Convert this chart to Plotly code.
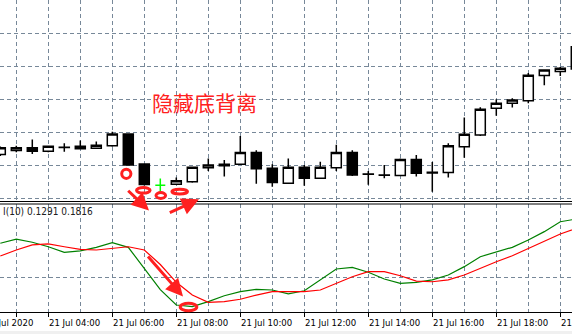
import plotly.graph_objects as go

W, H = 572, 334

# ---------------- data ----------------
# 30-minute bars, 21 Jul 2020 (index 0 = 02:30)
bar_idx = list(range(37))
open_ = [1.15132, 1.15144, 1.15152, 1.15142, 1.15154, 1.15157, 1.15151, 1.15158, 1.15194, 1.15103,
         1.15039, 1.15042, 1.15049, 1.15092, 1.15102, 1.15102, 1.15138, 1.15090, 1.15045, 1.15093,
         1.15060, 1.15092, 1.15138, 1.15073, 1.15070, 1.15068, 1.15117, 1.15078, 1.15077, 1.15155,
         1.15191, 1.15272, 1.15287, 1.15295, 1.15371, 1.15383, 1.15391]
high = [1.15156, 1.15158, 1.15177, 1.15158, 1.15166, 1.15174, 1.15171, 1.15201, 1.15196, 1.15105,
        1.15059, 1.15062, 1.15094, 1.15120, 1.15115, 1.15188, 1.15145, 1.15102, 1.15120, 1.15100,
        1.15110, 1.15161, 1.15145, 1.15082, 1.15100, 1.15120, 1.15130, 1.15109, 1.15166, 1.15244,
        1.15275, 1.15299, 1.15302, 1.15379, 1.15390, 1.15397, 1.15461]
low = [1.15127, 1.15139, 1.15133, 1.15139, 1.15140, 1.15149, 1.15150, 1.15155, 1.15098, 1.15038,
       1.15018, 1.15040, 1.15046, 1.15082, 1.15065, 1.15101, 1.15043, 1.15034, 1.15043, 1.15037,
       1.15058, 1.15082, 1.15067, 1.15040, 1.15060, 1.15067, 1.15065, 1.15019, 1.15062, 1.15122,
       1.15188, 1.15249, 1.15274, 1.15287, 1.15342, 1.15370, 1.15389]
close = [1.15152, 1.15152, 1.15142, 1.15157, 1.15153, 1.15149, 1.15160, 1.15194, 1.15100, 1.15041,
         1.15039, 1.15052, 1.15093, 1.15100, 1.15098, 1.15138, 1.15089, 1.15047, 1.15093, 1.15060,
         1.15093, 1.15138, 1.15070, 1.15072, 1.15069, 1.15117, 1.15075, 1.15076, 1.15158, 1.15193,
         1.15269, 1.15287, 1.15297, 1.15372, 1.15388, 1.15393, 1.15458]
# bars drawn in the line-chart colour (doji)
line_color_bars = [10]

# RVI(10): main (green) and signal (red)
rvi_main = [0.241, 0.271, 0.248, 0.216, 0.176, 0.186, 0.212, 0.245, 0.212, 0.060,
            -0.090, -0.200, -0.212, -0.176, -0.134, -0.105, -0.088, -0.093, -0.121, -0.098,
            -0.021, 0.057, 0.069, 0.034, -0.014, -0.045, -0.038, -0.021, 0.014, 0.074,
            0.145, 0.181, 0.212, 0.264, 0.324, 0.395, 0.414]
rvi_signal = [0.150, 0.193, 0.229, 0.236, 0.216, 0.198, 0.193, 0.205, 0.216, 0.193,
              0.089, -0.038, -0.129, -0.181, -0.176, -0.159, -0.129, -0.105, -0.105, -0.105,
              -0.093, -0.045, 0.002, 0.038, 0.038, 0.009, -0.029, -0.034, -0.021, 0.014,
              0.062, 0.109, 0.152, 0.205, 0.257, 0.307, 0.348]
rvi_label = "I(10) 0.1291 0.1816"

# time axis labels
label_idx = [-1, 3, 7, 11, 15, 19, 23, 27, 31, 35]
label_text = ["21 Jul 2020", "21 Jul 04:00", "21 Jul 06:00", "21 Jul 08:00", "21 Jul 10:00",
              "21 Jul 12:00", "21 Jul 14:00", "21 Jul 16:00", "21 Jul 18:00", "21 Jul 20:00"]
tick_idx = [1, 3, 7, 11, 15, 19, 23, 27, 31, 35]
grid_idx = list(range(1, 36, 2))

price_grid_step = 0.001
title_text = "隐藏底背离"

# ---------------- layout helpers ----------------
x_range = [-0.01875, 35.73125]
price_range = [1.149909, 1.156]
rvi_range = [-0.25, 0.521429]


def px_x(px):
    return px / W


def px_y(py):
    return 1 - py / H


def idx_to_paper(i):
    return (i - x_range[0]) / (x_range[1] - x_range[0])


GRID = "#778899"
DASH = "4px,3px"
FONT = "DejaVu Sans Condensed, DejaVu Sans, sans-serif"
RED = "#ff2020"

fig = go.Figure()

norm = [i for i in bar_idx if i not in line_color_bars]
fig.add_trace(go.Candlestick(
    x=[bar_idx[i] for i in norm],
    open=[open_[i] for i in norm], high=[high[i] for i in norm],
    low=[low[i] for i in norm], close=[close[i] for i in norm],
    increasing=dict(line=dict(color="black", width=1.5), fillcolor="white"),
    decreasing=dict(line=dict(color="black", width=1.5), fillcolor="black"),
    xaxis="x", yaxis="y", showlegend=False, hoverinfo="skip"))
fig.add_trace(go.Candlestick(
    x=[bar_idx[i] for i in line_color_bars],
    open=[open_[i] for i in line_color_bars], high=[high[i] for i in line_color_bars],
    low=[low[i] for i in line_color_bars], close=[close[i] for i in line_color_bars],
    increasing=dict(line=dict(color="#00ff00", width=1.5), fillcolor="#00ff00"),
    decreasing=dict(line=dict(color="#00ff00", width=1.5), fillcolor="#00ff00"),
    xaxis="x", yaxis="y", showlegend=False, hoverinfo="skip"))

fig.add_trace(go.Scatter(x=bar_idx, y=rvi_main, mode="lines",
                         line=dict(color="#008000", width=1.2),
                         xaxis="x2", yaxis="y2", showlegend=False, hoverinfo="skip"))
fig.add_trace(go.Scatter(x=bar_idx, y=rvi_signal, mode="lines",
                         line=dict(color="#ff0000", width=1.2),
                         xaxis="x2", yaxis="y2", showlegend=False, hoverinfo="skip"))

minor_vals = [g for g in grid_idx if g not in tick_idx]

fig.update_layout(
    width=W, height=H,
    margin=dict(l=0, r=0, t=0, b=0),
    paper_bgcolor="white", plot_bgcolor="white",
    boxgap=0.375, boxgroupgap=0,
    showlegend=False,
    xaxis=dict(domain=[0, 1], anchor="y", range=x_range, showticklabels=False,
               tickmode="array", tickvals=grid_idx, ticks="",
               showgrid=True, gridcolor=GRID, griddash=DASH, gridwidth=1,
               zeroline=False, showline=False, rangeslider=dict(visible=False)),
    yaxis=dict(domain=[1 - 201 / H, 1], anchor="x", range=price_range,
               tick0=1.15, dtick=price_grid_step, showticklabels=False, ticks="",
               showgrid=True, gridcolor=GRID, griddash=DASH, gridwidth=1,
               zeroline=False, showline=False),
    xaxis2=dict(domain=[0, 1], anchor="y2", range=x_range, showticklabels=False,
                tickmode="array", tickvals=tick_idx, ticks="outside", ticklen=4,
                tickcolor="black", tickwidth=1,
                showgrid=True, gridcolor=GRID, griddash=DASH, gridwidth=1,
                minor=dict(tickmode="array", tickvals=minor_vals, ticks="",
                           showgrid=True, gridcolor=GRID, griddash=DASH, gridwidth=1),
                showline=True, linecolor="black", linewidth=1.3, zeroline=False),
    yaxis2=dict(domain=[1 - 312 / H, 1 - 204 / H], anchor="x2", range=rvi_range,
                tickmode="array", tickvals=[0], showticklabels=False, ticks="",
                showgrid=True, gridcolor=GRID, griddash=DASH, gridwidth=1,
                zeroline=False, showline=False),
)

shapes = []
# pane separator (double line)
for py in (201.5, 204):
    shapes.append(dict(type="line", xref="paper", yref="paper", x0=0, x1=1,
                       y0=px_y(py), y1=px_y(py), line=dict(color="black", width=1)))
# bottom window strip
shapes.append(dict(type="rect", xref="paper", yref="paper", x0=0, x1=1,
                   y0=0, y1=px_y(331), fillcolor="#f0f0f0", line=dict(width=0), layer="above"))
# hand-drawn red ellipses (cx, cy, rx, ry in pixels)
ellipses = [(126.3, 173.8, 4.6, 4.6), (143.3, 190.3, 6.8, 2.8), (160.8, 195.5, 4.8, 2.9),
            (179.7, 191.6, 7.8, 2.4), (188.5, 307.0, 8.3, 3.7)]
for cx, cy, rx, ry in ellipses:
    shapes.append(dict(type="circle", xref="paper", yref="paper",
                       x0=px_x(cx - rx), x1=px_x(cx + rx), y0=px_y(cy + ry), y1=px_y(cy - ry),
                       line=dict(color=RED, width=3), layer="above"))

annotations = []
# red arrows (head x, head y, tail x, tail y in pixels)
arrows = [(149.0, 210.5, 126.7, 189.3), (199.0, 199.3, 168.3, 213.3), (183.0, 296.5, 146.7, 255.0)]
for hx, hy, tx, ty in arrows:
    annotations.append(dict(x=px_x(hx), y=px_y(hy), xref="paper", yref="paper", text="",
                            showarrow=True, ax=tx - hx, ay=ty - hy, axref="pixel", ayref="pixel",
                            arrowhead=2, arrowsize=1.15, arrowwidth=3, arrowcolor=RED, standoff=0))
# Chinese caption
annotations.append(dict(x=px_x(204), y=px_y(102), xref="paper", yref="paper", text=title_text,
                        showarrow=False, xanchor="center", yanchor="middle",
                        font=dict(family="Noto Sans CJK SC", size=21, color=RED)))
# indicator label
annotations.append(dict(x=px_x(1.5), y=px_y(211.7), xref="paper", yref="paper", text=rvi_label,
                        showarrow=False, xanchor="left", yanchor="middle", borderpad=0,
                        font=dict(family=FONT, size=10, color="#202020")))
# time labels, left aligned at their tick
for i, t in zip(label_idx, label_text):
    annotations.append(dict(x=idx_to_paper(i), y=px_y(322), xref="paper", yref="paper", text=t,
                            showarrow=False, xanchor="left", yanchor="middle", borderpad=0,
                            font=dict(family=FONT, size=9.5, color="black")))

fig.update_layout(shapes=shapes, annotations=annotations)
fig.write_html("out.html")
